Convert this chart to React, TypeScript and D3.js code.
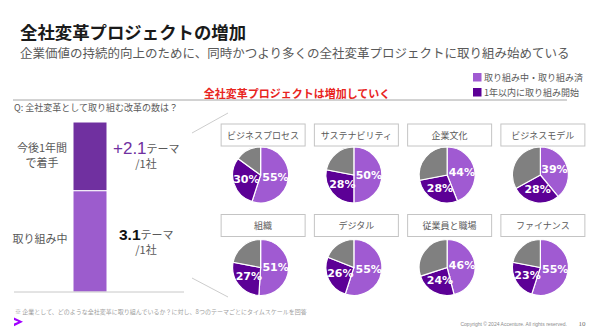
import React from "react";
import * as d3 from "d3";

const themes = ["ビジネスプロセス", "サステナビリティ", "企業文化", "ビジネスモデル", "組織", "デジタル", "従業員と職場", "ファイナンス"];
const inProgress = [55, 50, 44, 39, 51, 55, 46, 55];
const withinYear = [30, 28, 28, 28, 27, 26, 24, 23];

const barLabels = ["取り組み中", "今後1年間で着手"];
const barValues = [3.1, 2.1];

const legendLabels = ["取り組み中・取り組み済", "1年以内に取り組み開始"];

const JP = "'Noto Sans CJK JP', 'Noto Sans', sans-serif";
const LIGHT = "#A05AD2";
const DARK = "#5C0096";
const GRAY = "#808080";
const BAR_DARK = "#7030A0";
const BAR_LIGHT = "#9C5CCD";
const TXT = "#595959";

export default function App() {
  const W = 590, H = 332;
  const col = d3.scaleBand<number>().domain([0, 1, 2, 3]).range([214, 587]);
  const rowBox = [135, 225.5];
  const rowPie = [175, 267.5];
  const R = 28;
  const pie = d3.pie<number>().sort(null).value((d) => d);
  const arc = d3.arc<d3.PieArcDatum<number>>().innerRadius(0).outerRadius(R);
  const labelArc = d3.arc<d3.PieArcDatum<number>>().innerRadius(0).outerRadius(R * 1.07);

  const total = d3.sum(barValues);
  const y = d3.scaleLinear().domain([0, total]).range([292, 122]);
  const barX = 73, barW = 34;
  const stack = [0, barValues[0], total];

  return (
    <svg width={W} height={H} style={{ position: "absolute", left: 0, top: 0, background: "#fff" }} fontFamily={JP}>
      <rect width={W} height={H} fill="#fff" />
      {/* title */}
      <text x={20} y={31} fontSize={17.4} fontWeight={700} fill="#1a1a1a" dominantBaseline="central">全社変革プロジェクトの増加</text>
      <text x={20} y={52.5} fontSize={12.5} fill={TXT} dominantBaseline="central">企業価値の持続的向上のために、同時かつより多くの全社変革プロジェクトに取り組み始めている</text>

      {/* legend */}
      {legendLabels.map((l, i) => (
        <g key={l}>
          <rect x={473} y={73 + i * 15} width={8.5} height={8.5} fill={i === 0 ? LIGHT : DARK} />
          <text x={484} y={77.5 + i * 15} fontSize={9} fill={TXT} dominantBaseline="central">{l}</text>
        </g>
      ))}

      {/* red heading */}
      <text x={297} y={92.5} fontSize={11} fontWeight={700} fill="#E8251E" textAnchor="middle" dominantBaseline="central">全社変革プロジェクトは増加していく</text>
      <line x1={13} x2={567} y1={100} y2={100} stroke="#a6a6a6" strokeWidth={1} />

      {/* Q */}
      <text x={14} y={107} fontSize={9} fill={TXT} dominantBaseline="central">Q: 全社変革として取り組む改革の数は？</text>

      {/* stacked bar */}
      {barValues.map((v, i) => (
        <rect key={i} x={barX} width={barW} y={y(stack[i + 1])} height={y(stack[i]) - y(stack[i + 1])}
          fill={i === 0 ? BAR_LIGHT : BAR_DARK} stroke="#fff" strokeWidth={1} />
      ))}
      <line x1={14} x2={184} y1={292} y2={292} stroke="#c8c8c8" strokeWidth={1} />

      {/* bar labels left */}
      <text x={40} y={238} fontSize={11} fill={TXT} textAnchor="middle" dominantBaseline="central">{barLabels[0]}</text>
      <text x={42} y={147} fontSize={11} fill={TXT} textAnchor="middle" dominantBaseline="central">今後1年間</text>
      <text x={42} y={162} fontSize={11} fill={TXT} textAnchor="middle" dominantBaseline="central">で着手</text>

      {/* values right */}
      <text x={113} y={148} dominantBaseline="central">
        <tspan fontSize={17} fill={BAR_DARK} fontFamily="'Liberation Sans', sans-serif">+{barValues[1].toFixed(1)}</tspan>
        <tspan fontSize={11} fill={TXT}>テーマ</tspan>
      </text>
      <text x={146} y={163} fontSize={11} fill={TXT} textAnchor="middle" dominantBaseline="central">/1社</text>
      <text x={119} y={234} dominantBaseline="central">
        <tspan fontSize={15.5} fontWeight={700} fill="#111" fontFamily="'Liberation Sans', sans-serif">{barValues[0].toFixed(1)}</tspan>
        <tspan fontSize={11} fill={TXT}>テーマ</tspan>
      </text>
      <text x={146} y={249} fontSize={11} fill={TXT} textAnchor="middle" dominantBaseline="central">/1社</text>

      {/* connector lines */}
      <line x1={192} y1={133} x2={228} y2={113} stroke="#bfbfbf" strokeWidth={0.8} />
      <line x1={192} y1={278} x2={228} y2={297} stroke="#bfbfbf" strokeWidth={0.8} />

      {/* pies */}
      {themes.map((t, i) => {
        const r = Math.floor(i / 4);
        const c = i % 4;
        const cx = (col(c) as number) + col.bandwidth() / 2;
        const cy = rowPie[r];
        const vals = [inProgress[i], withinYear[i], 100 - inProgress[i] - withinYear[i]];
        const arcs = pie(vals);
        return (
          <g key={t}>
            <rect x={cx + 2.5 - 42} y={rowBox[r] - 11} width={84} height={22} fill="#fff" stroke="#c4c4c4" strokeWidth={1} />
            <text x={cx + 2.5} y={rowBox[r]} fontSize={9} fill={TXT} textAnchor="middle" dominantBaseline="central">{t}</text>
            <g transform={`translate(${cx},${cy})`}>
              {arcs.map((a, k) => (
                <path key={k} d={arc(a) || ""} fill={[LIGHT, DARK, GRAY][k]} stroke="#fff" strokeWidth={1.2} />
              ))}
              {arcs.slice(0, 2).map((a, k) => {
                const [lx, ly] = labelArc.centroid(a);
                return (
                  <text key={k} x={lx} y={ly} fontSize={11} fontWeight={700} fill="#fff" textAnchor="middle"
                    dominantBaseline="central" fontFamily="'DejaVu Sans', sans-serif">{vals[k]}%</text>
                );
              })}
            </g>
          </g>
        );
      })}

      {/* footnote */}
      <text x={15} y={311} fontSize={6} fill="#a0a0a0" dominantBaseline="central">※ 企業として、どのような全社変革に取り組んでいるか？に対し、8つのテーマごとにタイムスケールを回答</text>
      <path d="M14,317.5 L23,321.8 L14,326.2 L14,323.6 L18.4,321.8 L14,320 Z" fill="#A100FF" />
      <text x={567} y={324} fontSize={5} fill="#8c8c8c" textAnchor="end" dominantBaseline="central" fontFamily="'Liberation Sans', sans-serif">Copyright © 2024 Accenture. All rights reserved.</text>
      <text x={582} y={324} fontSize={7} fill="#6e6e6e" textAnchor="middle" dominantBaseline="central" fontFamily="'Liberation Serif', serif">10</text>
    </svg>
  );
}
